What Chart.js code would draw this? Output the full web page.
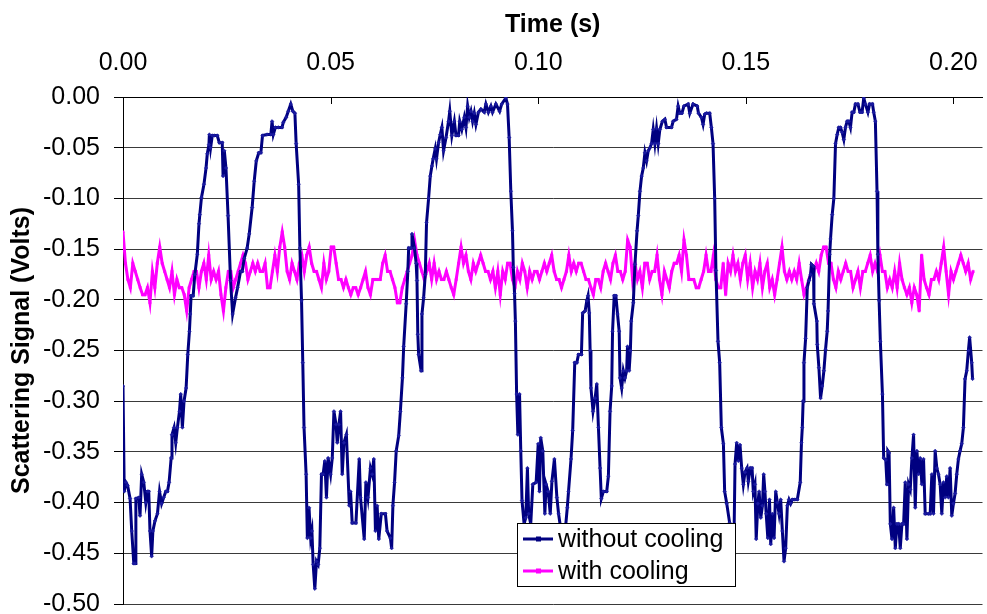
<!DOCTYPE html>
<html>
<head>
<meta charset="utf-8">
<script src="https://cdn.jsdelivr.net/npm/chart.js@4.4.1/dist/chart.umd.min.js"></script>
<style>
  html, body { margin: 0; padding: 0; background: #fff; }
  canvas { display: block; }
</style>
</head>
<body>
<canvas id="scatter-chart" width="987" height="614"></canvas>
<script>
// signal without cooling (time in ms, signal in volts)
const coolOffTimeMs = [
  0.0,0.3,0.7,1.1,1.7,2.1,2.6,2.9,3.1,3.8,
  4.1,4.5,5.0,5.5,5.9,6.2,6.5,6.9,7.2,7.7,
  8.3,8.8,9.3,9.8,10.3,10.7,11.1,11.6,11.8,12.3,
  12.7,13.1,13.6,13.9,14.3,14.7,15.2,15.6,16.0,16.2,
  16.4,16.9,17.3,17.9,18.3,18.5,18.9,19.5,20.0,20.3,
  20.7,20.8,21.1,21.5,22.0,22.7,23.2,23.9,24.1,24.4,
  24.8,25.3,25.9,26.4,27.1,27.6,28.3,28.7,29.2,29.9,
  30.4,31.1,31.6,32.1,32.7,33.2,33.6,34.7,35.6,35.9,
  36.2,36.7,37.4,38.3,38.6,39.3,39.8,40.4,40.9,41.4,
  41.7,42.3,42.6,43.0,43.3,43.6,44.1,44.4,44.8,45.2,
  45.5,45.8,46.2,46.6,47.0,47.4,47.8,48.2,48.6,49.0,
  49.4,50.0,50.4,50.8,51.3,51.6,52.0,52.4,52.8,53.2,
  53.8,54.5,54.8,55.2,56.1,56.9,57.2,58.1,58.5,59.0,
  59.6,60.0,60.4,60.8,61.2,61.6,62.2,63.2,63.6,64.4,
  64.7,65.0,65.4,65.8,66.4,66.8,67.3,67.6,68.2,68.6,
  68.8,69.4,69.6,70.2,70.6,70.8,71.0,71.2,71.8,72.0,
  72.4,72.8,73.1,73.6,74.0,74.4,74.7,75.2,75.5,76.0,
  76.4,76.8,77.2,77.8,78.4,78.7,79.2,79.8,80.2,80.8,
  81.1,81.6,82.2,82.6,83.0,83.4,83.8,84.2,84.6,85.0,
  85.6,86.2,87.0,87.4,88.0,88.6,89.0,89.8,90.7,91.2,
  92.2,92.6,93.0,93.4,93.8,94.0,94.3,94.5,94.8,95.1,
  95.5,95.8,96.1,96.6,97.0,97.4,97.7,98.2,98.7,99.5,
  100.0,100.3,100.6,101.1,101.6,101.9,102.4,102.9,103.3,103.9,
  104.5,104.9,105.5,106.0,106.5,107.0,107.3,107.9,108.3,108.8,
  109.3,109.7,110.4,110.7,111.3,111.7,112.0,112.3,112.5,112.7,
  113.2,113.7,114.1,114.5,114.9,115.2,115.7,116.5,116.9,117.3,
  117.7,117.9,118.3,118.7,119.1,119.5,119.7,120.1,120.5,120.9,
  121.3,121.5,121.9,122.2,122.4,122.9,123.3,123.8,124.1,124.5,
  124.9,125.3,125.7,126.1,126.5,126.9,127.3,127.7,128.1,128.5,
  128.9,129.3,129.9,130.5,130.9,132.1,132.5,133.3,133.7,134.1,
  134.6,135.1,136.1,136.5,137.3,138.3,138.6,139.3,139.7,140.1,
  140.5,141.3,141.7,142.1,142.5,142.8,143.3,143.7,144.1,144.6,
  144.9,145.4,146.1,146.9,147.1,147.4,147.8,148.2,148.6,149.0,
  149.4,149.8,150.3,150.6,151.1,151.5,151.8,152.2,152.5,152.9,
  153.2,153.6,154.0,154.3,154.6,154.9,155.3,155.7,156.0,156.4,
  156.8,157.2,157.6,158.0,158.4,158.8,159.2,159.6,160.0,160.4,
  160.8,161.2,161.8,162.4,163.1,163.4,163.6,163.8,164.0,164.4,
  164.8,165.2,165.6,165.8,166.3,166.4,167.1,167.2,167.6,168.0,
  168.4,168.8,169.2,169.6,169.8,170.2,170.4,170.8,171.2,171.6,
  172.0,172.4,172.8,173.2,173.6,174.0,174.4,174.8,175.2,175.6,
  176.0,176.4,177.0,177.5,178.0,178.4,178.8,179.4,179.8,180.5,
  180.8,181.2,181.6,181.8,182.1,182.4,182.9,183.2,183.7,184.0,
  184.2,184.5,184.8,185.2,185.6,186.0,186.4,186.8,187.2,187.6,
  188.0,188.4,188.8,189.2,189.6,190.0,190.4,190.8,191.2,191.6,
  192.0,192.4,192.8,193.2,194.0,194.4,194.8,195.2,195.6,196.0,
  196.4,196.8,197.2,197.6,198.0,198.4,198.8,199.2,199.6,200.0,
  200.4,200.8,201.2,201.6,202.0,202.4,202.8,203.2,203.6,203.9,204.4,204.6
];
const coolOffVolts = [
  -0.285,-0.389,-0.380,-0.383,-0.396,-0.428,-0.460,-0.460,-0.396,-0.395,
  -0.413,-0.372,-0.380,-0.400,-0.389,-0.389,-0.428,-0.453,-0.428,-0.418,
  -0.411,-0.389,-0.401,-0.395,-0.389,-0.389,-0.380,-0.356,-0.333,-0.326,
  -0.341,-0.326,-0.310,-0.293,-0.326,-0.300,-0.287,-0.254,-0.231,-0.214,
  -0.196,-0.196,-0.175,-0.155,-0.125,-0.116,-0.099,-0.086,-0.070,-0.056,
  -0.047,-0.037,-0.050,-0.038,-0.038,-0.038,-0.045,-0.045,-0.078,-0.053,
  -0.070,-0.117,-0.181,-0.214,-0.198,-0.188,-0.172,-0.172,-0.159,-0.149,
  -0.135,-0.109,-0.083,-0.063,-0.055,-0.055,-0.038,-0.037,-0.037,-0.024,
  -0.037,-0.030,-0.030,-0.030,-0.025,-0.020,-0.014,-0.007,-0.014,-0.016,
  -0.046,-0.086,-0.149,-0.201,-0.262,-0.326,-0.372,-0.435,-0.405,-0.435,
  -0.428,-0.461,-0.485,-0.458,-0.461,-0.445,-0.372,-0.372,-0.359,-0.395,
  -0.356,-0.372,-0.356,-0.310,-0.323,-0.341,-0.323,-0.310,-0.372,-0.341,
  -0.333,-0.403,-0.389,-0.420,-0.420,-0.357,-0.395,-0.436,-0.380,-0.395,
  -0.366,-0.372,-0.357,-0.428,-0.403,-0.436,-0.411,-0.411,-0.428,-0.435,
  -0.445,-0.403,-0.380,-0.349,-0.334,-0.310,-0.277,-0.246,-0.204,-0.172,
  -0.149,-0.149,-0.135,-0.149,-0.164,-0.181,-0.234,-0.254,-0.270,-0.214,
  -0.198,-0.175,-0.124,-0.100,-0.078,-0.068,-0.061,-0.051,-0.061,-0.045,
  -0.037,-0.030,-0.053,-0.040,-0.024,-0.014,-0.038,-0.024,-0.038,-0.038,
  -0.024,-0.032,-0.020,-0.030,-0.009,-0.020,-0.014,-0.024,-0.016,-0.027,
  -0.015,-0.012,-0.015,-0.007,-0.015,-0.009,-0.015,-0.007,-0.014,-0.007,
  -0.001,-0.007,-0.040,-0.093,-0.132,-0.168,-0.194,-0.221,-0.293,-0.333,
  -0.293,-0.349,-0.398,-0.421,-0.415,-0.366,-0.411,-0.421,-0.382,-0.380,
  -0.342,-0.389,-0.336,-0.349,-0.411,-0.382,-0.389,-0.411,-0.379,-0.357,
  -0.395,-0.411,-0.428,-0.448,-0.428,-0.405,-0.389,-0.357,-0.329,-0.262,
  -0.262,-0.254,-0.254,-0.213,-0.211,-0.201,-0.196,-0.213,-0.250,-0.287,
  -0.310,-0.297,-0.283,-0.326,-0.366,-0.396,-0.389,-0.389,-0.374,-0.310,
  -0.285,-0.231,-0.196,-0.196,-0.214,-0.231,-0.277,-0.287,-0.270,-0.277,
  -0.270,-0.246,-0.270,-0.250,-0.221,-0.203,-0.165,-0.132,-0.117,-0.093,
  -0.078,-0.070,-0.055,-0.063,-0.053,-0.050,-0.046,-0.032,-0.046,-0.031,
  -0.046,-0.032,-0.024,-0.022,-0.030,-0.030,-0.024,-0.022,-0.009,-0.016,
  -0.016,-0.009,-0.007,-0.016,-0.007,-0.009,-0.016,-0.020,-0.027,-0.017,
  -0.016,-0.016,-0.030,-0.046,-0.100,-0.171,-0.241,-0.262,-0.326,-0.342,
  -0.389,-0.401,-0.420,-0.451,-0.451,-0.362,-0.341,-0.359,-0.343,-0.366,
  -0.382,-0.370,-0.366,-0.379,-0.366,-0.366,-0.389,-0.382,-0.436,-0.401,
  -0.389,-0.415,-0.403,-0.372,-0.389,-0.411,-0.435,-0.397,-0.441,-0.411,
  -0.435,-0.389,-0.400,-0.411,-0.397,-0.428,-0.458,-0.445,-0.403,-0.397,
  -0.401,-0.397,-0.397,-0.397,-0.380,-0.341,-0.326,-0.300,-0.262,-0.238,
  -0.188,-0.181,-0.175,-0.165,-0.167,-0.204,-0.221,-0.244,-0.267,-0.297,
  -0.285,-0.270,-0.249,-0.231,-0.211,-0.155,-0.140,-0.116,-0.100,-0.046,
  -0.037,-0.030,-0.030,-0.035,-0.042,-0.030,-0.024,-0.024,-0.030,-0.015,
  -0.015,-0.007,-0.007,-0.015,-0.015,-0.001,-0.007,-0.015,-0.007,-0.007,
  -0.015,-0.024,-0.093,-0.155,-0.201,-0.241,-0.293,-0.356,-0.358,-0.382,
  -0.349,-0.351,-0.421,-0.436,-0.405,-0.445,-0.421,-0.421,-0.445,-0.421,
  -0.421,-0.380,-0.436,-0.382,-0.387,-0.356,-0.333,-0.405,-0.349,-0.372,
  -0.356,-0.382,-0.357,-0.411,-0.411,-0.411,-0.372,-0.411,-0.349,-0.366,
  -0.372,-0.382,-0.411,-0.380,-0.395,-0.374,-0.395,-0.366,-0.413,-0.401,
  -0.391,-0.372,-0.357,-0.349,-0.342,-0.326,-0.278,-0.270,-0.250,-0.237,-0.262,-0.278
];

// signal with cooling, one reading per scope sample
const coolOnStepMs = 0.59;
const coolOnVolts = [
  -0.133,-0.164,-0.180,-0.188,-0.164,-0.172,-0.180,-0.188,-0.195,-0.195,
  -0.188,-0.203,-0.172,-0.188,-0.164,-0.148,-0.164,-0.172,-0.180,-0.188,
  -0.172,-0.195,-0.180,-0.188,-0.188,-0.195,-0.211,-0.188,-0.180,-0.172,
  -0.172,-0.188,-0.172,-0.164,-0.180,-0.156,-0.180,-0.172,-0.180,-0.172,
  -0.195,-0.211,-0.188,-0.172,-0.172,-0.188,-0.180,-0.172,-0.164,-0.156,
  -0.164,-0.180,-0.172,-0.164,-0.172,-0.164,-0.172,-0.172,-0.164,-0.188,
  -0.188,-0.172,-0.156,-0.172,-0.148,-0.133,-0.148,-0.172,-0.180,-0.164,
  -0.172,-0.180,-0.164,-0.156,-0.172,-0.156,-0.148,-0.164,-0.172,-0.172,
  -0.180,-0.188,-0.164,-0.180,-0.172,-0.148,-0.148,-0.164,-0.180,-0.180,
  -0.188,-0.180,-0.188,-0.195,-0.188,-0.188,-0.195,-0.188,-0.180,-0.172,
  -0.188,-0.195,-0.180,-0.180,-0.180,-0.180,-0.164,-0.156,-0.172,-0.172,
  -0.180,-0.188,-0.203,-0.203,-0.188,-0.180,-0.172,-0.164,-0.156,-0.141,
  -0.156,-0.164,-0.172,-0.180,-0.172,-0.164,-0.180,-0.164,-0.180,-0.172,
  -0.180,-0.180,-0.172,-0.180,-0.188,-0.195,-0.180,-0.164,-0.148,-0.164,
  -0.156,-0.172,-0.180,-0.164,-0.172,-0.164,-0.156,-0.164,-0.172,-0.172,
  -0.180,-0.172,-0.188,-0.172,-0.195,-0.172,-0.180,-0.164,-0.164,-0.180,
  -0.188,-0.172,-0.180,-0.164,-0.172,-0.188,-0.172,-0.180,-0.172,-0.172,
  -0.180,-0.172,-0.164,-0.172,-0.164,-0.156,-0.172,-0.180,-0.180,-0.188,
  -0.180,-0.172,-0.156,-0.172,-0.164,-0.172,-0.164,-0.164,-0.172,-0.180,
  -0.180,-0.188,-0.195,-0.180,-0.180,-0.188,-0.172,-0.164,-0.172,-0.180,
  -0.164,-0.156,-0.172,-0.172,-0.180,-0.172,-0.141,-0.148,-0.180,-0.164,
  -0.180,-0.172,-0.188,-0.164,-0.164,-0.180,-0.172,-0.172,-0.156,-0.180,
  -0.195,-0.172,-0.180,-0.188,-0.172,-0.164,-0.164,-0.156,-0.172,-0.141,
  -0.156,-0.180,-0.180,-0.180,-0.188,-0.188,-0.180,-0.172,-0.156,-0.172,
  -0.172,-0.156,-0.180,-0.188,-0.188,-0.164,-0.195,-0.164,-0.172,-0.156,
  -0.172,-0.164,-0.180,-0.164,-0.156,-0.180,-0.164,-0.188,-0.172,-0.180,
  -0.164,-0.188,-0.172,-0.164,-0.188,-0.180,-0.195,-0.180,-0.164,-0.148,
  -0.172,-0.180,-0.172,-0.180,-0.172,-0.180,-0.164,-0.180,-0.195,-0.188,
  -0.180,-0.172,-0.172,-0.164,-0.172,-0.156,-0.148,-0.148,-0.164,-0.164,
  -0.180,-0.188,-0.172,-0.180,-0.172,-0.164,-0.172,-0.172,-0.188,-0.180,
  -0.172,-0.188,-0.172,-0.172,-0.164,-0.156,-0.172,-0.164,-0.172,-0.156,
  -0.172,-0.172,-0.188,-0.180,-0.188,-0.172,-0.188,-0.164,-0.180,-0.188,
  -0.195,-0.188,-0.203,-0.188,-0.195,-0.211,-0.156,-0.180,-0.188,-0.195,
  -0.180,-0.180,-0.172,-0.180,-0.164,-0.148,-0.172,-0.195,-0.172,-0.180,
  -0.172,-0.164,-0.156,-0.164,-0.172,-0.164,-0.180,-0.172
];

const seriesLabels = ['without cooling', 'with cooling'];
const timeTicks = [0, 0.05, 0.10, 0.15, 0.20];
const timeMax = 0.207;
const voltTicks = [0, -0.05, -0.10, -0.15, -0.20, -0.25, -0.30, -0.35, -0.40, -0.45, -0.50];

const FONT = "'Liberation Sans', Arial, Helvetica, sans-serif";
Chart.defaults.font.family = FONT;
Chart.defaults.color = '#000';

const coolOffPoints = coolOffTimeMs.map((t, i) => ({ x: t / 1000, y: coolOffVolts[i] }));
const coolOnPoints = coolOnVolts.map((v, i) => ({ x: i * coolOnStepMs / 1000, y: v }));

// small tick marks pointing down into the plot from the top axis
const innerTicks = {
    id: 'innerTicks',
    afterDraw(chart) {
        const { ctx, chartArea } = chart;
        const xScale = chart.scales.x;
        ctx.save();
        ctx.strokeStyle = '#000';
        ctx.lineWidth = 1;
        xScale.ticks.forEach(t => {
            const px = Math.round(xScale.getPixelForValue(t.value)) + 0.5;
            ctx.beginPath();
            ctx.moveTo(px, chartArea.top);
            ctx.lineTo(px, chartArea.top + 7);
            ctx.stroke();
        });
        ctx.restore();
    }
};

// legend box sitting inside the plot, like the spreadsheet one
const insideLegend = {
    id: 'insideLegend',
    afterDraw(chart) {
        const { ctx, chartArea } = chart;
        const x = chartArea.left + 394;
        const y = chartArea.top + 426;
        const w = 218, h = 63;
        ctx.save();
        ctx.fillStyle = '#fff';
        ctx.fillRect(x, y, w, h);
        ctx.strokeStyle = '#000';
        ctx.lineWidth = 1;
        ctx.strokeRect(x + 0.5, y + 0.5, w, h);
        chart.data.datasets.forEach((ds, i) => {
            const ly = y + 16 + i * 32;
            ctx.strokeStyle = ds.borderColor;
            ctx.lineWidth = 3;
            ctx.beginPath();
            ctx.moveTo(x + 6, ly);
            ctx.lineTo(x + 36, ly);
            ctx.stroke();
            ctx.fillStyle = ds.borderColor;
            ctx.fillRect(x + 19, ly - 2.5, 5, 5);
            ctx.fillStyle = '#000';
            ctx.font = '25px ' + FONT;
            ctx.textBaseline = 'middle';
            ctx.fillText(ds.label, x + 41, ly + 1);
        });
        ctx.restore();
    }
};

const ctx = document.getElementById('scatter-chart').getContext('2d');
new Chart(ctx, {
    type: 'scatter',
    data: {
        datasets: [
            {
                label: seriesLabels[0],
                data: coolOffPoints,
                showLine: true,
                borderColor: '#000080',
                backgroundColor: '#000080',
                borderWidth: 3,
                pointStyle: 'rectRot',
                pointRadius: 1.8,
                pointBorderWidth: 0.5,
                pointBorderColor: '#1a1aa0',
                pointBackgroundColor: '#1a1aa0',
                tension: 0
            },
            {
                label: seriesLabels[1],
                data: coolOnPoints,
                showLine: true,
                borderColor: '#ff00ff',
                backgroundColor: '#ff00ff',
                borderWidth: 3,
                pointStyle: 'rect',
                pointRadius: 1.6,
                pointBorderWidth: 0.5,
                tension: 0
            }
        ]
    },
    options: {
        responsive: false,
        animation: false,
        devicePixelRatio: 1,
        layout: { padding: { left: 0, right: 0, top: 0, bottom: 10 } },
        plugins: {
            legend: { display: false },
            tooltip: { enabled: false }
        },
        scales: {
            x: {
                type: 'linear',
                position: 'top',
                min: 0,
                max: timeMax,
                afterBuildTicks: scale => {
                    scale.ticks = timeTicks.map(v => ({ value: v }));
                },
                afterFit: scale => {
                    scale.height = 97;
                    scale.paddingLeft = 0;
                    scale.paddingRight = 0;
                },
                ticks: {
                    font: { size: 25 },
                    padding: 19,
                    maxRotation: 0,
                    callback: v => Number(v).toFixed(2)
                },
                grid: { display: false, drawTicks: false },
                border: { display: true, color: '#000', width: 1 },
                title: {
                    display: true,
                    text: 'Time (s)',
                    font: { size: 25, weight: 'bold' },
                    padding: { top: 10, bottom: 0 }
                }
            },
            y: {
                type: 'linear',
                min: -0.5,
                max: 0,
                afterBuildTicks: scale => {
                    scale.ticks = voltTicks.map(v => ({ value: v }));
                },
                afterFit: scale => {
                    scale.width = 123;
                    scale.paddingTop = 0;
                    scale.paddingBottom = 0;
                },
                ticks: {
                    font: { size: 25 },
                    padding: 14,
                    callback: v => Number(v).toFixed(2)
                },
                grid: {
                    color: '#3a3a3a',
                    lineWidth: 1,
                    drawTicks: true,
                    tickLength: 9,
                    tickColor: '#000'
                },
                border: { display: true, color: '#000', width: 1 },
                title: {
                    display: true,
                    text: 'Scattering Signal (Volts)',
                    font: { size: 25, weight: 'bold' },
                    padding: { top: 7, bottom: 0 }
                }
            }
        }
    },
    plugins: [innerTicks, insideLegend]
});
</script>
</body>
</html>
